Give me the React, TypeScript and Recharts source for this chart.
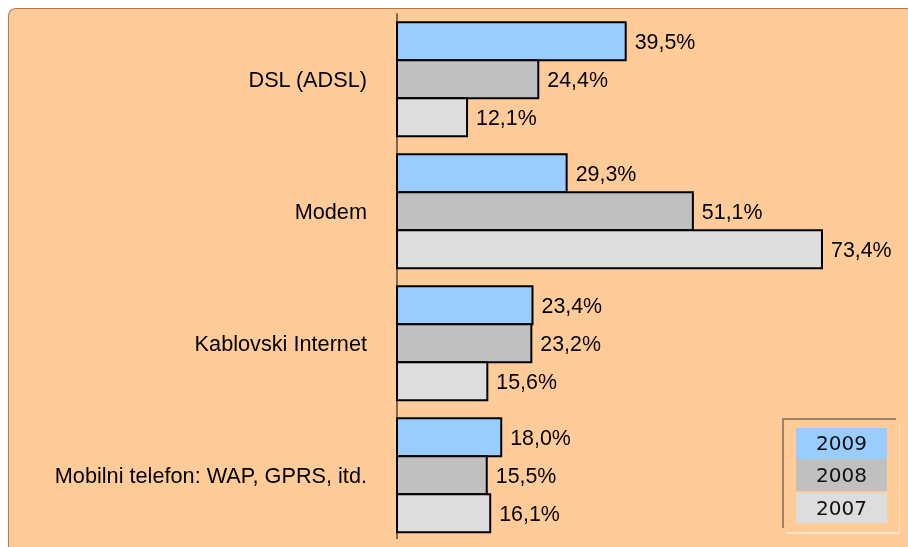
import React from 'react';
import { BarChart, Bar, XAxis, YAxis, LabelList } from 'recharts';

const categories = ['DSL (ADSL)', 'Modem', 'Kablovski Internet', 'Mobilni telefon: WAP, GPRS, itd.'];
const values2009 = [39.5, 29.3, 23.4, 18.0];
const values2008 = [24.4, 51.1, 23.2, 15.5];
const values2007 = [12.1, 73.4, 15.6, 16.1];
const seriesNames = ['2009', '2008', '2007'];
const seriesColors = ['#99CCFF', '#C0C0C0', '#DDDDDD'];

const data = categories.map((c, i) => ({
  name: c,
  '2009': values2009[i],
  '2008': values2008[i],
  '2007': values2007[i],
}));

const FONT = '"Liberation Sans", Arial, sans-serif';
const fmt = (v: any) => `${Number(v).toFixed(1).replace('.', ',')}%`;

export default function App() {
  return (
    <div style={{ position: 'relative', width: 892, height: 531 }}>
      <style>{'html{overflow:hidden}'}</style>
      <div
        style={{
          position: 'fixed',
          left: 8,
          top: 8,
          width: 1000,
          height: 600,
          boxSizing: 'border-box',
          background: '#FFCC99',
          borderTop: '1.5px solid #C07548',
          borderLeft: '1.5px solid #C07548',
          borderTopLeftRadius: 8,
        }}
      />
      <div style={{ position: 'absolute', left: 0, top: 0 }}>
        <BarChart
          width={900}
          height={539}
          data={data}
          layout="vertical"
          margin={{ top: 5.3, right: 47.8, bottom: 5.7, left: 0 }}
          barSize={38}
          barGap={0}
        >
          <XAxis type="number" domain={[0, 80]} hide />
          <YAxis
            type="category"
            dataKey="name"
            width={389}
            axisLine={{ stroke: '#000', strokeWidth: 1 }}
            tickLine={false}
            tickMargin={24}
            tick={{ fill: '#000', fontSize: 21.7, fontFamily: FONT }}
            interval={0}
          />
          {seriesNames.map((s, i) => (
            <Bar
              key={s}
              dataKey={s}
              fill={seriesColors[i]}
              stroke="#000"
              strokeWidth={2}
              isAnimationActive={false}
            >
              <LabelList
                dataKey={s}
                position="right"
                offset={9}
                formatter={fmt}
                style={{ fill: '#000', fontSize: 21.4, fontFamily: FONT }}
              />
            </Bar>
          ))}
        </BarChart>
      </div>
      {/* legend */}
      <div
        style={{
          position: 'absolute',
          left: 774,
          top: 410,
          width: 114,
          height: 110,
          boxSizing: 'border-box',
          borderTop: '2.5px solid #A0826A',
          borderLeft: '2.5px solid #A0826A',
        }}
      />
      <div
        style={{
          position: 'absolute',
          left: 779,
          top: 416,
          width: 114,
          height: 110,
          boxSizing: 'border-box',
          borderRight: '2.5px solid #FFE2C4',
          borderBottom: '2.5px solid #FFE2C4',
        }}
      />
      {seriesNames.map((s, i) => (
        <div
          key={s}
          style={{
            position: 'absolute',
            left: 788,
            top: [419.7, 451.3, 485.3][i],
            width: 91,
            height: [31.3, 31.7, 30][i],
            background: seriesColors[i],
            color: '#111',
            fontFamily: '"DejaVu Sans", Verdana, sans-serif',
            fontSize: 20,
            display: 'flex',
            alignItems: 'center',
            justifyContent: 'center',
          }}
        >
          {s}
        </div>
      ))}
    </div>
  );
}
